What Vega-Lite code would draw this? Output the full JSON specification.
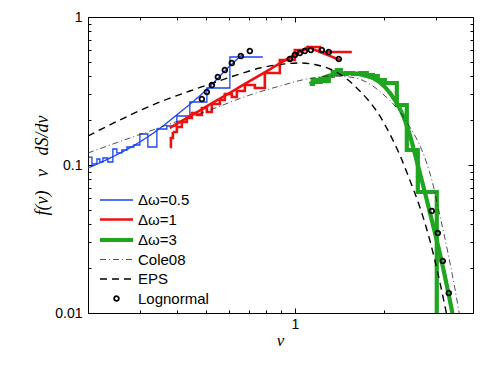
{
  "$schema": "https://vega.github.io/schema/vega-lite/v6.json",
  "width": 385,
  "height": 296,
  "autosize": {"type": "none"},
  "padding": {"left": 88, "top": 17, "right": 18, "bottom": 56},
  "background": "white",
  "config": {
    "view": {"stroke": null},
    "font": "Liberation Sans",
    "axis": {
      "grid": false,
      "domainColor": "black",
      "domainWidth": 1,
      "tickColor": "black",
      "tickWidth": 1,
      "labelColor": "black",
      "labelFont": "Liberation Sans",
      "labelFontSize": 14,
      "labelOverlap": false,
      "labelFlush": false,
      "labelBound": false,
      "titleColor": "black",
      "titleFont": "Liberation Serif",
      "titleFontStyle": "italic",
      "titleFontWeight": "normal",
      "titleFontSize": 17
    }
  },
  "datasets": {
    "d": [
      {"series": "Δω=0.5", "kind": "hist", "nu": 0.2014, "value": 0.1132},
      {"series": "Δω=0.5", "kind": "hist", "nu": 0.2062, "value": 0.1016},
      {"series": "Δω=0.5", "kind": "hist", "nu": 0.2144, "value": 0.1098},
      {"series": "Δω=0.5", "kind": "hist", "nu": 0.2194, "value": 0.1048},
      {"series": "Δω=0.5", "kind": "hist", "nu": 0.2246, "value": 0.1115},
      {"series": "Δω=0.5", "kind": "hist", "nu": 0.2334, "value": 0.1048},
      {"series": "Δω=0.5", "kind": "hist", "nu": 0.2427, "value": 0.1283},
      {"series": "Δω=0.5", "kind": "hist", "nu": 0.2504, "value": 0.1206},
      {"series": "Δω=0.5", "kind": "hist", "nu": 0.2603, "value": 0.1263},
      {"series": "Δω=0.5", "kind": "hist", "nu": 0.2707, "value": 0.1323},
      {"series": "Δω=0.5", "kind": "hist", "nu": 0.2858, "value": 0.1365},
      {"series": "Δω=0.5", "kind": "hist", "nu": 0.2995, "value": 0.1620},
      {"series": "Δω=0.5", "kind": "hist", "nu": 0.3187, "value": 0.1323},
      {"series": "Δω=0.5", "kind": "hist", "nu": 0.3418, "value": 0.1751},
      {"series": "Δω=0.5", "kind": "hist", "nu": 0.3694, "value": 0.1835},
      {"series": "Δω=0.5", "kind": "hist", "nu": 0.3993, "value": 0.2144},
      {"series": "Δω=0.5", "kind": "hist", "nu": 0.4417, "value": 0.2665},
      {"series": "Δω=0.5", "kind": "hist", "nu": 0.5043, "value": 0.3314},
      {"series": "Δω=0.5", "kind": "hist", "nu": 0.6032, "value": 0.5367},
      {"series": "Δω=0.5", "kind": "hist", "nu": 0.7796, "value": 0.5367},

      {"series": "Δω=0.5", "kind": "fit", "nu": 0.2, "value": 0.0954},
      {"series": "Δω=0.5", "kind": "fit", "nu": 0.2371, "value": 0.1113},
      {"series": "Δω=0.5", "kind": "fit", "nu": 0.2836, "value": 0.1342},
      {"series": "Δω=0.5", "kind": "fit", "nu": 0.3418, "value": 0.1710},
      {"series": "Δω=0.5", "kind": "fit", "nu": 0.3993, "value": 0.2181},
      {"series": "Δω=0.5", "kind": "fit", "nu": 0.4487, "value": 0.2640},
      {"series": "Δω=0.5", "kind": "fit", "nu": 0.5043, "value": 0.3242},
      {"series": "Δω=0.5", "kind": "fit", "nu": 0.6032, "value": 0.4673},
      {"series": "Δω=0.5", "kind": "fit", "nu": 0.6622, "value": 0.5529},

      {"series": "Δω=1", "kind": "hist", "nu": 0.3782, "value": 0.1323},
      {"series": "Δω=1", "kind": "hist", "nu": 0.3812, "value": 0.1522},
      {"series": "Δω=1", "kind": "hist", "nu": 0.3871, "value": 0.1671},
      {"series": "Δω=1", "kind": "hist", "nu": 0.3993, "value": 0.1806},
      {"series": "Δω=1", "kind": "hist", "nu": 0.4151, "value": 0.1952},
      {"series": "Δω=1", "kind": "hist", "nu": 0.4316, "value": 0.2077},
      {"series": "Δω=1", "kind": "hist", "nu": 0.4487, "value": 0.2246},
      {"series": "Δω=1", "kind": "hist", "nu": 0.4667, "value": 0.2177},
      {"series": "Δω=1", "kind": "hist", "nu": 0.4851, "value": 0.2427},
      {"series": "Δω=1", "kind": "hist", "nu": 0.5043, "value": 0.2281},
      {"series": "Δω=1", "kind": "hist", "nu": 0.5243, "value": 0.2584},
      {"series": "Δω=1", "kind": "hist", "nu": 0.5580, "value": 0.2749},
      {"series": "Δω=1", "kind": "hist", "nu": 0.5801, "value": 0.3019},
      {"series": "Δω=1", "kind": "hist", "nu": 0.6125, "value": 0.2880},
      {"series": "Δω=1", "kind": "hist", "nu": 0.6369, "value": 0.3162},
      {"series": "Δω=1", "kind": "hist", "nu": 0.6778, "value": 0.3472},
      {"series": "Δω=1", "kind": "hist", "nu": 0.7327, "value": 0.3314},
      {"series": "Δω=1", "kind": "hist", "nu": 0.7918, "value": 0.4183},
      {"series": "Δω=1", "kind": "hist", "nu": 0.8899, "value": 0.5123},
      {"series": "Δω=1", "kind": "hist", "nu": 1.0, "value": 0.5984},
      {"series": "Δω=1", "kind": "hist", "nu": 1.1063, "value": 0.6270},
      {"series": "Δω=1", "kind": "hist", "nu": 1.2147, "value": 0.5801},
      {"series": "Δω=1", "kind": "hist", "nu": 1.5579, "value": 0.5801},

      {"series": "Δω=1", "kind": "fitlin", "nu": 0.3782, "value": 0.1778},
      {"series": "Δω=1", "kind": "fitlin", "nu": 0.6520, "value": 0.3371},
      {"series": "Δω=1", "kind": "fitlin", "nu": 1.1063, "value": 0.6270},
      {"series": "Δω=1", "kind": "fitlin", "nu": 1.419, "value": 0.5123},

      {"series": "Δω=3", "kind": "hist", "nu": 1.1236, "value": 0.3526},
      {"series": "Δω=3", "kind": "hist", "nu": 1.15, "value": 0.3753},
      {"series": "Δω=3", "kind": "hist", "nu": 1.1867, "value": 0.3637},
      {"series": "Δω=3", "kind": "hist", "nu": 1.2243, "value": 0.3812},
      {"series": "Δω=3", "kind": "hist", "nu": 1.2631, "value": 0.3694},
      {"series": "Δω=3", "kind": "hist", "nu": 1.3027, "value": 0.3993},
      {"series": "Δω=3", "kind": "hist", "nu": 1.3439, "value": 0.4249},
      {"series": "Δω=3", "kind": "hist", "nu": 1.3864, "value": 0.4384},
      {"series": "Δω=3", "kind": "hist", "nu": 1.4303, "value": 0.4120},
      {"series": "Δω=3", "kind": "hist", "nu": 1.4988, "value": 0.4183},
      {"series": "Δω=3", "kind": "hist", "nu": 1.5703, "value": 0.4120},
      {"series": "Δω=3", "kind": "hist", "nu": 1.6582, "value": 0.4183},
      {"series": "Δω=3", "kind": "hist", "nu": 1.7510, "value": 0.4056},
      {"series": "Δω=3", "kind": "hist", "nu": 1.8347, "value": 0.3993},
      {"series": "Δω=3", "kind": "hist", "nu": 1.9074, "value": 0.3753},
      {"series": "Δω=3", "kind": "hist", "nu": 2.0140, "value": 0.3581},
      {"series": "Δω=3", "kind": "hist", "nu": 2.2111, "value": 0.2543},
      {"series": "Δω=3", "kind": "hist", "nu": 2.3898, "value": 0.1263},
      {"series": "Δω=3", "kind": "hist", "nu": 2.6033, "value": 0.0657},
      {"series": "Δω=3", "kind": "hist", "nu": 3.0175, "value": 0.005},

      {"series": "Δω=3", "kind": "fit", "nu": 1.1236, "value": 0.3526},
      {"series": "Δω=3", "kind": "fit", "nu": 1.2433, "value": 0.3871},
      {"series": "Δω=3", "kind": "fit", "nu": 1.3864, "value": 0.4120},
      {"series": "Δω=3", "kind": "fit", "nu": 1.5337, "value": 0.4183},
      {"series": "Δω=3", "kind": "fit", "nu": 1.6971, "value": 0.4056},
      {"series": "Δω=3", "kind": "fit", "nu": 1.8347, "value": 0.3871},
      {"series": "Δω=3", "kind": "fit", "nu": 1.9830, "value": 0.3472},
      {"series": "Δω=3", "kind": "fit", "nu": 2.1429, "value": 0.2880},
      {"series": "Δω=3", "kind": "fit", "nu": 2.3170, "value": 0.2177},
      {"series": "Δω=3", "kind": "fit", "nu": 2.4460, "value": 0.1595},
      {"series": "Δω=3", "kind": "fit", "nu": 2.6033, "value": 0.1},
      {"series": "Δω=3", "kind": "fit", "nu": 2.8577, "value": 0.0481},
      {"series": "Δω=3", "kind": "fit", "nu": 3.1378, "value": 0.0221},
      {"series": "Δω=3", "kind": "fit", "nu": 3.4713, "value": 0.0083},

      {"series": "Cole08", "kind": "fit", "nu": 0.2, "value": 0.1206},
      {"series": "Cole08", "kind": "fit", "nu": 0.2770, "value": 0.1522},
      {"series": "Cole08", "kind": "fit", "nu": 0.3782, "value": 0.1892},
      {"series": "Cole08", "kind": "fit", "nu": 0.5162, "value": 0.2353},
      {"series": "Cole08", "kind": "fit", "nu": 0.6884, "value": 0.2925},
      {"series": "Cole08", "kind": "fit", "nu": 0.8899, "value": 0.3418},
      {"series": "Cole08", "kind": "fit", "nu": 1.0978, "value": 0.3812},
      {"series": "Cole08", "kind": "fit", "nu": 1.3130, "value": 0.3993},
      {"series": "Cole08", "kind": "fit", "nu": 1.5337, "value": 0.3932},
      {"series": "Cole08", "kind": "fit", "nu": 1.7920, "value": 0.3526},
      {"series": "Cole08", "kind": "fit", "nu": 1.9830, "value": 0.3019},
      {"series": "Cole08", "kind": "fit", "nu": 2.2111, "value": 0.2427},
      {"series": "Cole08", "kind": "fit", "nu": 2.4460, "value": 0.1806},
      {"series": "Cole08", "kind": "fit", "nu": 2.6860, "value": 0.1263},
      {"series": "Cole08", "kind": "fit", "nu": 2.903, "value": 0.0792},
      {"series": "Cole08", "kind": "fit", "nu": 3.0898, "value": 0.0460},
      {"series": "Cole08", "kind": "fit", "nu": 3.2871, "value": 0.0258},
      {"series": "Cole08", "kind": "fit", "nu": 3.4713, "value": 0.01476},
      {"series": "Cole08", "kind": "fit", "nu": 3.6088, "value": 0.00954},

      {"series": "EPS", "kind": "fit", "nu": 0.2, "value": 0.1570},
      {"series": "EPS", "kind": "fit", "nu": 0.2644, "value": 0.2077},
      {"series": "EPS", "kind": "fit", "nu": 0.3499, "value": 0.2665},
      {"series": "EPS", "kind": "fit", "nu": 0.4417, "value": 0.3162},
      {"series": "EPS", "kind": "fit", "nu": 0.5284, "value": 0.3581},
      {"series": "EPS", "kind": "fit", "nu": 0.6520, "value": 0.4120},
      {"series": "EPS", "kind": "fit", "nu": 0.7616, "value": 0.4520},
      {"series": "EPS", "kind": "fit", "nu": 0.8899, "value": 0.4776},
      {"series": "EPS", "kind": "fit", "nu": 1.0397, "value": 0.4888},
      {"series": "EPS", "kind": "fit", "nu": 1.1684, "value": 0.4776},
      {"series": "EPS", "kind": "fit", "nu": 1.3130, "value": 0.4453},
      {"series": "EPS", "kind": "fit", "nu": 1.4988, "value": 0.3812},
      {"series": "EPS", "kind": "fit", "nu": 1.6582, "value": 0.3162},
      {"series": "EPS", "kind": "fit", "nu": 1.7920, "value": 0.2665},
      {"series": "EPS", "kind": "fit", "nu": 1.9373, "value": 0.2144},
      {"series": "EPS", "kind": "fit", "nu": 2.0940, "value": 0.1620},
      {"series": "EPS", "kind": "fit", "nu": 2.2632, "value": 0.1168},
      {"series": "EPS", "kind": "fit", "nu": 2.4460, "value": 0.0792},
      {"series": "EPS", "kind": "fit", "nu": 2.6442, "value": 0.0520},
      {"series": "EPS", "kind": "fit", "nu": 2.8577, "value": 0.0311},
      {"series": "EPS", "kind": "fit", "nu": 3.0898, "value": 0.0162},
      {"series": "EPS", "kind": "fit", "nu": 3.2871, "value": 0.00897},

      {"series": "Lognormal", "kind": "pt", "nu": 0.4851, "value": 0.2792},
      {"series": "Lognormal", "kind": "pt", "nu": 0.5043, "value": 0.3113},
      {"series": "Lognormal", "kind": "pt", "nu": 0.5243, "value": 0.3472},
      {"series": "Lognormal", "kind": "pt", "nu": 0.5494, "value": 0.3932},
      {"series": "Lognormal", "kind": "pt", "nu": 0.5801, "value": 0.4384},
      {"series": "Lognormal", "kind": "pt", "nu": 0.6125, "value": 0.4888},
      {"series": "Lognormal", "kind": "pt", "nu": 0.6570, "value": 0.5451},
      {"series": "Lognormal", "kind": "pt", "nu": 0.7047, "value": 0.5891},
      {"series": "Lognormal", "kind": "pt", "nu": 0.9618, "value": 0.5202},
      {"series": "Lognormal", "kind": "pt", "nu": 1.0, "value": 0.5537},
      {"series": "Lognormal", "kind": "pt", "nu": 1.0397, "value": 0.5711},
      {"series": "Lognormal", "kind": "pt", "nu": 1.0808, "value": 0.5891},
      {"series": "Lognormal", "kind": "pt", "nu": 1.1324, "value": 0.5984},
      {"series": "Lognormal", "kind": "pt", "nu": 1.2338, "value": 0.5984},
      {"series": "Lognormal", "kind": "pt", "nu": 1.3027, "value": 0.5801},
      {"series": "Lognormal", "kind": "pt", "nu": 1.4078, "value": 0.5202},
      {"series": "Lognormal", "kind": "pt", "nu": 2.903, "value": 0.0489},
      {"series": "Lognormal", "kind": "pt", "nu": 3.042, "value": 0.0347},
      {"series": "Lognormal", "kind": "pt", "nu": 3.162, "value": 0.02245},
      {"series": "Lognormal", "kind": "pt", "nu": 3.313, "value": 0.01365}
    ]
  },
  "data": {"name": "d"},
  "resolve": {"axis": {"x": "independent", "y": "independent"}},
  "encoding": {
    "color": {
      "field": "series",
      "type": "nominal",
      "scale": {
        "domain": ["Δω=0.5", "Δω=1", "Δω=3", "Cole08", "EPS", "Lognormal"],
        "range": ["#1a44ee", "#f01010", "#1fa51f", "#222222", "black", "black"]
      },
      "legend": {
        "title": null,
        "orient": "none",
        "legendX": 21,
        "legendY": 175.5,
        "padding": 0,
        "symbolType": "M-3.3,0H3.3",
        "symbolSize": 100,
        "symbolOffset": 0,
        "labelOffset": 14,
        "rowPadding": 3.5,
        "labelFont": "Liberation Sans",
        "labelFontSize": 15,
        "labelColor": "black",
        "encode": {
          "symbols": {
            "update": {
              "shape": {"signal": "datum.value === 'Lognormal' ? 'circle' : 'M-3.3,0H3.3'"},
              "size": {"signal": "datum.value === 'Lognormal' ? 22 : 100"},
              "fill": {"value": "transparent"},
              "opacity": {"value": 1},
              "strokeWidth": {"signal": "datum.value === 'Δω=3' ? 4.2 : datum.value === 'Δω=1' ? 2.6 : datum.value === 'Cole08' ? 0.8 : datum.value === 'Lognormal' ? 1.8 : datum.value === 'EPS' ? 1.4 : 1.3"}
            }
          }
        }
      }
    },
    "strokeDash": {
      "field": "series",
      "type": "nominal",
      "scale": {
        "domain": ["Δω=0.5", "Δω=1", "Δω=3", "Cole08", "EPS", "Lognormal"],
        "range": [[1, 0], [1, 0], [1, 0], [6, 3, 1, 3], [7, 5], [1, 0]]
      },
      "legend": {
        "title": null,
        "orient": "none",
        "legendX": 21,
        "legendY": 175.5,
        "padding": 0,
        "symbolType": "M-3.3,0H3.3",
        "symbolSize": 100,
        "symbolOffset": 0,
        "labelOffset": 14,
        "rowPadding": 3.5,
        "labelFont": "Liberation Sans",
        "labelFontSize": 15,
        "labelColor": "black",
        "encode": {
          "symbols": {
            "update": {
              "shape": {"signal": "datum.value === 'Lognormal' ? 'circle' : 'M-3.3,0H3.3'"},
              "size": {"signal": "datum.value === 'Lognormal' ? 22 : 100"},
              "fill": {"value": "transparent"},
              "opacity": {"value": 1},
              "strokeWidth": {"signal": "datum.value === 'Δω=3' ? 4.2 : datum.value === 'Δω=1' ? 2.6 : datum.value === 'Cole08' ? 0.8 : datum.value === 'Lognormal' ? 1.8 : datum.value === 'EPS' ? 1.4 : 1.3"}
            }
          }
        }
      }
    },
    "strokeWidth": {
      "condition": [
        {"test": "datum.series === 'Δω=3'", "value": 4.2},
        {"test": "datum.series === 'Δω=1'", "value": 2.6},
        {"test": "datum.series === 'Cole08'", "value": 0.8},
        {"test": "datum.series === 'EPS'", "value": 1.4},
        {"test": "datum.series === 'Lognormal'", "value": 1.8}
      ],
      "value": 1.3
    }
  },
  "layer": [
    {
      "transform": [{"filter": "datum.kind === 'hist'"}],
      "mark": {"type": "line", "interpolate": "step-after", "clip": true},
      "encoding": {
        "x": {"field": "nu", "type": "quantitative", "scale": {"type": "log", "domain": [0.2, 4]}, "axis": null},
        "y": {"field": "value", "type": "quantitative", "scale": {"type": "log", "domain": [0.01, 1]}, "axis": null}
      }
    },
    {
      "transform": [{"filter": "datum.kind === 'fit'"}],
      "mark": {"type": "line", "interpolate": "monotone", "clip": true},
      "encoding": {
        "x": {
          "field": "nu", "type": "quantitative",
          "scale": {"type": "log", "domain": [0.2, 4]},
          "axis": {
            "orient": "bottom",
            "values": [0.2, 0.3, 0.4, 0.5, 0.6, 0.7, 0.8, 0.9, 1, 2, 3, 4],
            "labelExpr": "datum.value === 1 ? '1' : ''",
            "tickSize": {"condition": {"test": "datum.value === 1", "value": -5}, "value": -3},
            "labelPadding": 9,
            "title": "ν",
            "titleX": 192,
            "titleY": 27,
            "titleBaseline": "middle",
            "titleAlign": "center"
          }
        },
        "y": {
          "field": "value", "type": "quantitative",
          "scale": {"type": "log", "domain": [0.01, 1]},
          "axis": {
            "orient": "left",
            "values": [0.01, 0.02, 0.03, 0.04, 0.05, 0.06, 0.07, 0.08, 0.09, 0.1, 0.2, 0.3, 0.4, 0.5, 0.6, 0.7, 0.8, 0.9, 1],
            "labelExpr": "datum.value === 0.01 ? '0.01' : datum.value === 0.1 ? '0.1' : datum.value === 1 ? '1' : ''",
            "tickSize": {"condition": {"test": "datum.value === 0.01 || datum.value === 0.1 || datum.value === 1", "value": -5}, "value": -3},
            "labelPadding": 11,
            "title": "f(ν)\u00a0\u00a0\u00a0ν\u00a0\u00a0\u00a0dS/dν",
            "titleFontSize": 18,
            "titleX": -46,
            "titleY": 148,
            "titleAngle": -90,
            "titleAlign": "center",
            "titleBaseline": "middle"
          }
        }
      }
    },
    {
      "transform": [{"filter": "datum.kind === 'fitlin'"}],
      "mark": {"type": "line", "interpolate": "linear", "clip": true},
      "encoding": {
        "x": {
          "field": "nu", "type": "quantitative",
          "scale": {"type": "log", "domain": [0.2, 4]},
          "axis": {
            "orient": "top",
            "values": [0.2, 0.3, 0.4, 0.5, 0.6, 0.7, 0.8, 0.9, 1, 2, 3, 4],
            "labels": false,
            "tickSize": {"condition": {"test": "datum.value === 1", "value": -5}, "value": -3},
            "title": null
          }
        },
        "y": {
          "field": "value", "type": "quantitative",
          "scale": {"type": "log", "domain": [0.01, 1]},
          "axis": {
            "orient": "right",
            "values": [0.01, 0.02, 0.03, 0.04, 0.05, 0.06, 0.07, 0.08, 0.09, 0.1, 0.2, 0.3, 0.4, 0.5, 0.6, 0.7, 0.8, 0.9, 1],
            "labels": false,
            "tickSize": {"condition": {"test": "datum.value === 0.01 || datum.value === 0.1 || datum.value === 1", "value": -5}, "value": -3},
            "title": null
          }
        }
      }
    },
    {
      "transform": [{"filter": "datum.kind === 'pt'"}],
      "mark": {"type": "point", "shape": "circle", "filled": false, "size": 22, "opacity": 1, "clip": true},
      "encoding": {
        "x": {"field": "nu", "type": "quantitative", "scale": {"type": "log", "domain": [0.2, 4]}, "axis": null},
        "y": {"field": "value", "type": "quantitative", "scale": {"type": "log", "domain": [0.01, 1]}, "axis": null}
      }
    }
  ]
}
